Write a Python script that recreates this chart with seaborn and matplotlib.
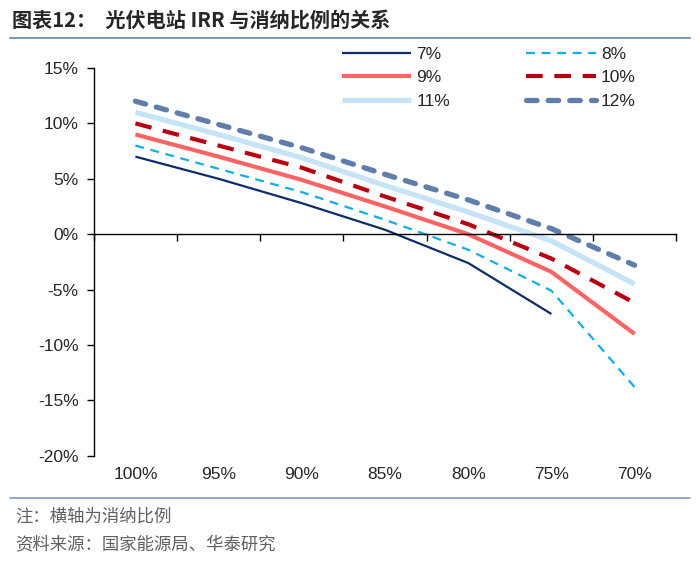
import numpy as np
import pandas as pd
import matplotlib
matplotlib.use("Agg")
import matplotlib.pyplot as plt
from matplotlib.lines import Line2D
import seaborn as sns

# 消纳比例 (横轴)
categories = ["100%", "95%", "90%", "85%", "80%", "75%", "70%"]

# IRR under different assumptions (legend labels)
series_names = ["7%", "8%", "9%", "10%", "11%", "12%"]

irr_7 = [7.0, 5.0, 2.8, 0.4, -2.6, -7.2, np.nan]
irr_8 = [8.0, 5.9, 3.8, 1.3, -1.4, -5.1, -13.8]
irr_9 = [9.0, 7.0, 4.9, 2.5, 0.0, -3.4, -9.0]
irr_10 = [10.0, 8.0, 6.0, 3.4, 0.9, -2.2, -6.2]
irr_11 = [11.0, 9.0, 6.9, 4.4, 2.0, -0.6, -4.5]
irr_12 = [12.0, 9.9, 7.8, 5.4, 3.1, 0.5, -2.8]

y_ticks = [15, 10, 5, 0, -5, -10, -15, -20]

sns.set_style("white")
plt.rcParams["font.family"] = ["Liberation Sans", "Noto Sans CJK SC", "DejaVu Sans"]

styles = {
    "7%": dict(color="#0d2c6c", lw=1.6, linestyle="-"),
    "8%": dict(color="#10aee8", lw=1.6, linestyle=(0, (4, 3))),
    "9%": dict(color="#fa6464", lw=3.0, linestyle="-"),
    "10%": dict(color="#b80010", lw=3.0, linestyle=(0, (4, 2.8))),
    "11%": dict(color="#c6e4f6", lw=3.8, linestyle="-"),
    "12%": dict(color="#5f7ea9", lw=3.8, linestyle=(0, (2, 2.1)), dash_capstyle="round"),
}

fig = plt.figure(figsize=(7.0, 5.62), dpi=100)
ax = fig.add_axes([0.134, 0.189, 0.832, 0.690])

positions = np.arange(len(categories))
all_series = [irr_7, irr_8, irr_9, irr_10, irr_11, irr_12]
for name, vals in zip(series_names, all_series):
    df = pd.DataFrame({"pos": positions, "irr": vals}).dropna()
    sns.lineplot(data=df, x="pos", y="irr", ax=ax, label=name,
                 solid_capstyle="butt", **styles[name])

ax.set_xlim(-0.5, 6.5)
ax.set_ylim(-20, 15)
ax.set_yticks(y_ticks)
ax.set_yticklabels([f"{t}%" for t in y_ticks], fontsize=12.5)
ax.set_xlabel("")
ax.set_ylabel("")

# x axis drawn through zero, ticks at category boundaries
for s in ["top", "right"]:
    ax.spines[s].set_visible(False)
ax.spines["bottom"].set_position(("data", 0))
ax.spines["bottom"].set_color("black")
ax.spines["left"].set_color("black")
ax.spines["bottom"].set_linewidth(1.0)
ax.spines["left"].set_linewidth(1.0)
ax.set_xticks(np.arange(-0.5, 7.0, 1.0))
ax.set_xticklabels([])
ax.tick_params(axis="x", bottom=True, direction="out", length=5, width=1.0, color="black")
ax.tick_params(axis="y", left=True, direction="out", length=5, width=1.0, color="black", pad=6)

# category labels at the bottom
sec = ax.secondary_xaxis(0)
sec.set_xticks(positions)
sec.set_xticklabels(categories, fontsize=12.5)
sec.tick_params(bottom=False, length=0, pad=8)
sec.spines["bottom"].set_visible(False)

# legend, row-wise order
handles, labels = ax.get_legend_handles_labels()
order = [0, 2, 4, 1, 3, 5]
ax.legend([handles[i] for i in order], [labels[i] for i in order],
          ncol=2, frameon=False, fontsize=12.5, loc="upper left",
          bbox_to_anchor=(326 / 700, 1 - 31 / 562), bbox_transform=fig.transFigure,
          handlelength=4.0, handletextpad=0.3, columnspacing=4.4, labelspacing=0.48)

# title and footnotes
fig.text(12 / 700, 1 - 20 / 562, "图表12：  光伏电站 IRR 与消纳比例的关系",
         fontsize=14.5, fontweight="bold", va="center", ha="left",
         family=["Noto Sans CJK SC", "DejaVu Sans"])
fig.add_artist(Line2D([10 / 700, 690 / 700], [1 - 38 / 562, 1 - 38 / 562],
                      color="#7f99bb", lw=1.5))
fig.add_artist(Line2D([10 / 700, 690 / 700], [1 - 498 / 562, 1 - 498 / 562],
                      color="#7f99bb", lw=1.2))
fig.text(15 / 700, 1 - 517 / 562, "注：横轴为消纳比例", fontsize=12.5,
         color="#606060", va="center", family=["Noto Sans CJK SC", "DejaVu Sans"])
fig.text(15 / 700, 1 - 544 / 562, "资料来源：国家能源局、华泰研究", fontsize=12.5,
         color="#606060", va="center", family=["Noto Sans CJK SC", "DejaVu Sans"])

fig.savefig("out.png", dpi=100)
